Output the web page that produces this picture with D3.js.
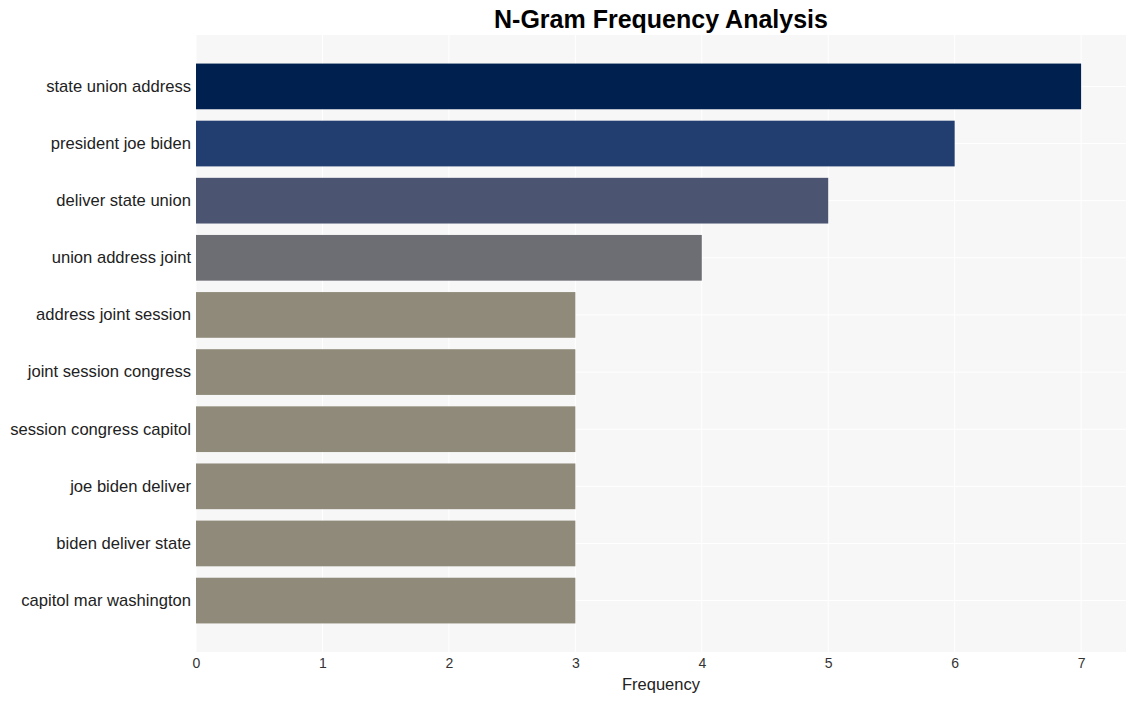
<!DOCTYPE html>
<html>
<head>
<meta charset="utf-8">
<script src="https://cdn.jsdelivr.net/npm/d3@7"></script>
<style>
  html, body { margin: 0; padding: 0; background: #fff; }
  svg { display: block; font-family: "Liberation Sans", Arial, sans-serif; }
</style>
</head>
<body>
<svg id="chart" width="1135" height="701"></svg>
<script>
const categories = [
  "state union address",
  "president joe biden",
  "deliver state union",
  "union address joint",
  "address joint session",
  "joint session congress",
  "session congress capitol",
  "joe biden deliver",
  "biden deliver state",
  "capitol mar washington"
];
const values = [7, 6, 5, 4, 3, 3, 3, 3, 3, 3];
const barColors = ["#00214f", "#223d70", "#4b5572", "#6d6e73", "#8f8a79", "#8f8a79", "#8f8a79", "#8f8a79", "#8f8a79", "#8f8a79"];
const xTicks = [0, 1, 2, 3, 4, 5, 6, 7];
const titleText = "N-Gram Frequency Analysis";
const xTitle = "Frequency";

(function () {
const svg = d3.select("#chart");
const pL = 196, pR = 1126, pT = 35, pB = 652;

const x = d3.scaleLinear().domain([0, 7.355]).range([pL, pR]);
const y = d3.scaleBand().domain(categories).range([pT, pB]).paddingInner(0.2).paddingOuter(0.5);

svg.append("rect").attr("x", pL).attr("y", pT).attr("width", pR - pL).attr("height", pB - pT).attr("fill", "#f7f7f7");

// gridlines
svg.append("g").selectAll("line").data(xTicks).join("line")
  .attr("x1", d => x(d)).attr("x2", d => x(d)).attr("y1", pT).attr("y2", pB)
  .attr("stroke", "#ffffff").attr("stroke-width", 1);
svg.append("g").selectAll("line").data(categories).join("line")
  .attr("x1", pL).attr("x2", pR)
  .attr("y1", d => y(d) + y.bandwidth() / 2).attr("y2", d => y(d) + y.bandwidth() / 2)
  .attr("stroke", "#ffffff").attr("stroke-width", 1);

// bars
svg.append("g").selectAll("rect").data(categories).join("rect")
  .attr("x", x(0)).attr("y", d => y(d))
  .attr("width", (d, i) => x(values[i]) - x(0))
  .attr("height", y.bandwidth())
  .attr("fill", (d, i) => barColors[i]);

// x axis
const xAxis = d3.axisBottom(x).tickValues(xTicks).tickSize(0).tickPadding(6).tickFormat(d3.format("d"));
const gx = svg.append("g").attr("transform", `translate(0,${pB})`).call(xAxis);
gx.select(".domain").remove();
gx.selectAll("text").attr("font-size", 14).attr("fill", "#333").attr("font-family", "Liberation Sans, Arial, sans-serif");

// y axis
const yAxis = d3.axisLeft(y).tickSize(0).tickPadding(5);
const gy = svg.append("g").attr("transform", `translate(${pL},0)`).call(yAxis);
gy.select(".domain").remove();
gy.selectAll("text").attr("font-size", 16.6).attr("fill", "#222").attr("font-family", "Liberation Sans, Arial, sans-serif");

// titles
svg.append("text").attr("x", (pL + pR) / 2).attr("y", 28).attr("text-anchor", "middle")
  .attr("font-size", 25).attr("font-weight", "bold").attr("fill", "#000").text(titleText);
svg.append("text").attr("x", (pL + pR) / 2).attr("y", 690).attr("text-anchor", "middle")
  .attr("font-size", 16.5).attr("fill", "#222").text(xTitle);
})();
</script>
</body>
</html>
